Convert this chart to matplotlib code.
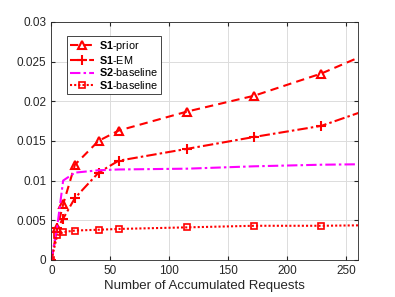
import numpy as np
import matplotlib
matplotlib.use('Agg')
import matplotlib.pyplot as plt
from matplotlib.ticker import FuncFormatter

plt.rcParams['font.family'] = ['Liberation Sans', 'DejaVu Sans']
plt.rcParams['mathtext.fontset'] = 'custom'
plt.rcParams['mathtext.rm'] = 'Liberation Sans'
plt.rcParams['mathtext.bf'] = 'Liberation Sans:bold'

# data
requests = [0, 5, 10, 20, 40, 57, 115, 172, 229, 287]
s1_prior = [0, 0.004, 0.007, 0.012, 0.015, 0.0163, 0.0187, 0.0207, 0.0235, 0.0272]
s1_em = [0, 0.004, 0.0052, 0.0078, 0.011, 0.0125, 0.014, 0.0155, 0.0169, 0.0199]
s2_base = [0, 0.0042, 0.010, 0.011, 0.0113, 0.0114, 0.0115, 0.0118, 0.0120, 0.0121]
s1_base = [0, 0.0031, 0.0035, 0.0037, 0.0038, 0.0039, 0.0041, 0.0043, 0.0043, 0.0044]

xticks = [0, 50, 100, 150, 200, 250]
yticks = [0, 0.005, 0.01, 0.015, 0.02, 0.025, 0.03]

fig = plt.figure(figsize=(3.95, 2.97), dpi=100)
ax = fig.add_axes([0.130, 0.125, 0.776, 0.801])

ax.plot(requests, s1_prior, color='red', ls=(0, (4, 2.5)), lw=1.5,
        marker='^', ms=6, mfc='none', mew=1.5, label=r'$\mathbf{S1}$-prior')
ax.plot(requests, s1_em, color='red', ls=(0, (5, 1.5, 1.2, 1.5)), lw=1.5,
        marker='+', ms=6.5, mew=1.5, label=r'$\mathbf{S1}$-EM')
ax.plot(requests, s2_base, color='magenta', ls=(0, (5, 1.5, 1.2, 1.5)), lw=1.5,
        label=r'$\mathbf{S2}$-baseline')
ax.plot(requests, s1_base, color='red', ls=(0, (1, 1)), lw=1.5,
        marker='s', ms=4.5, mfc='none', mew=1.2, label=r'$\mathbf{S1}$-baseline')

ax.set_xlim(0, 260)
ax.set_ylim(0, 0.03)
ax.set_xticks(xticks)
ax.set_yticks(yticks)
ax.yaxis.set_major_formatter(FuncFormatter(lambda v, p: ('%g' % v)))
ax.grid(True, color='#dcdcdc', lw=0.7)
ax.set_axisbelow(True)
ax.tick_params(direction='in', length=3, labelsize=8.5, colors='#262626',
               top=True, right=True)
for s in ax.spines.values():
    s.set_color('#262626')
    s.set_linewidth(0.6)
ax.set_xlabel('Number of Accumulated Requests', fontsize=9.5, color='#262626', labelpad=2)

leg = ax.legend(loc='upper left', bbox_to_anchor=(0.05, 0.941), borderaxespad=0,
                fontsize=7.8, fancybox=False, framealpha=1, edgecolor='#262626',
                handlelength=2.2, borderpad=0.3, labelspacing=0.05,
                handletextpad=0.5)
leg.get_frame().set_linewidth(0.6)

fig.savefig('out.png', dpi=100)
